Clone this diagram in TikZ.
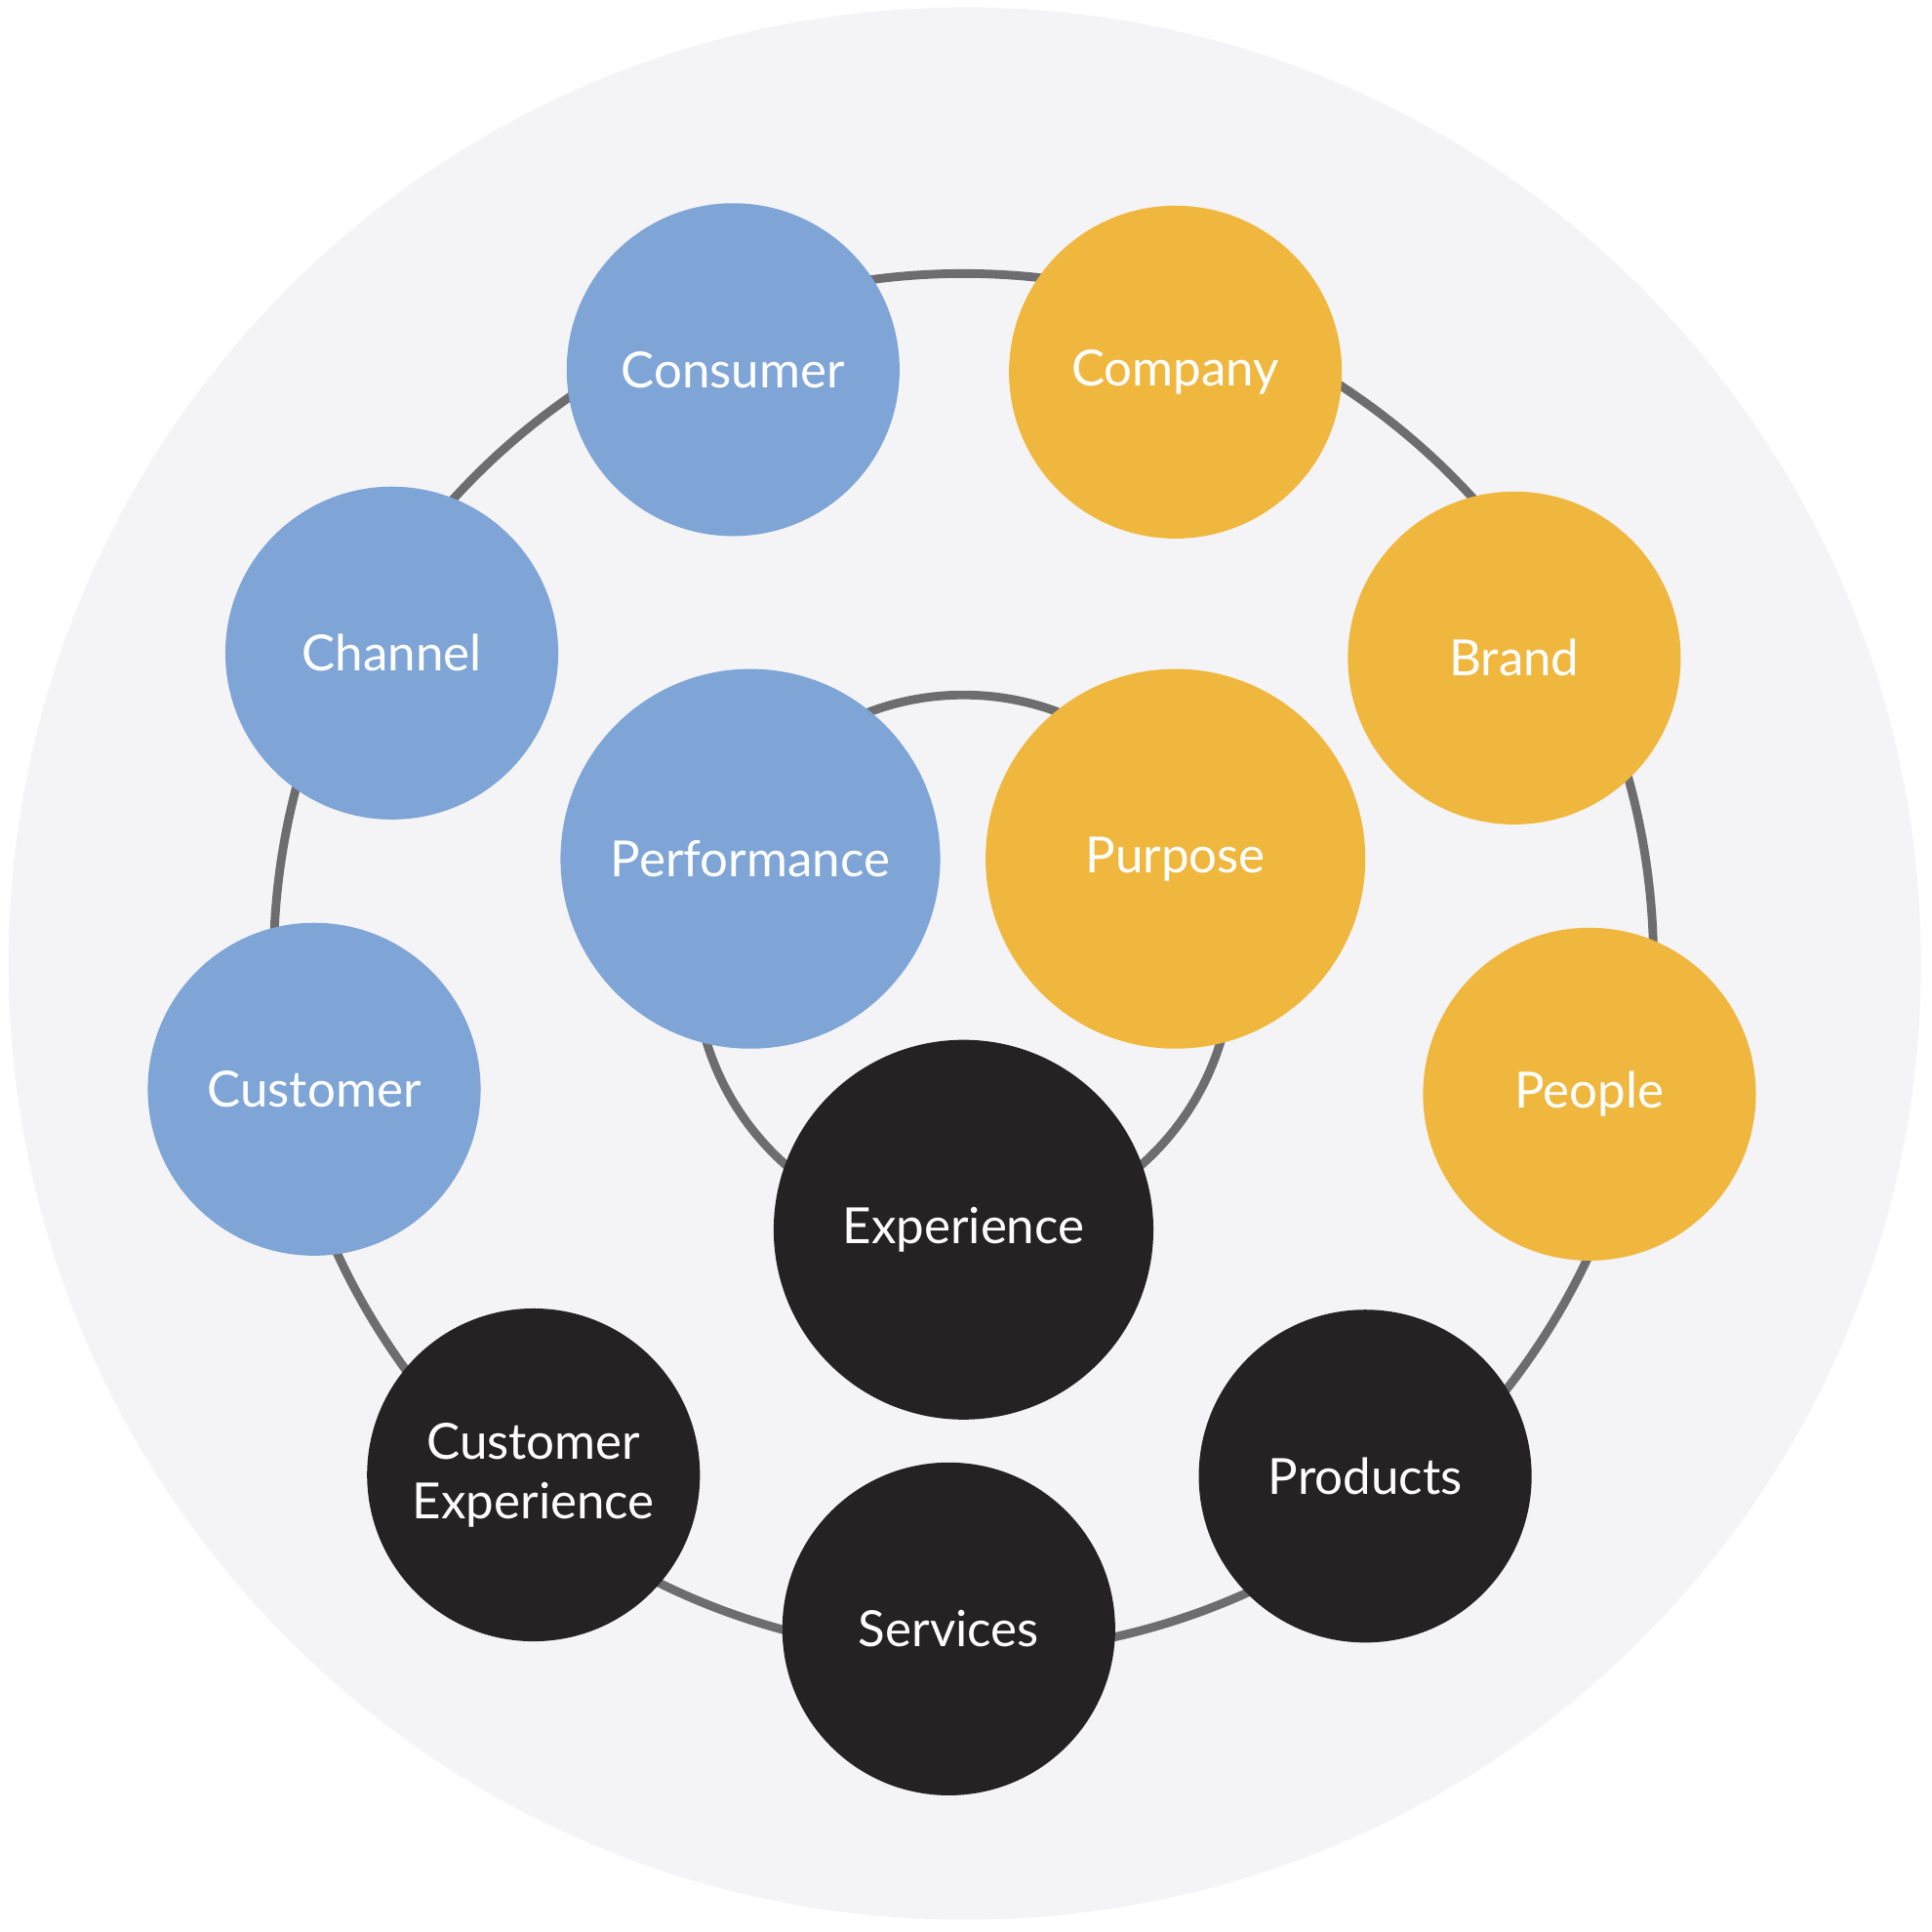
\documentclass[tikz,border=0pt]{standalone}
\usepackage{fontspec}
\setmainfont{Lato}
\definecolor{bgGray}{HTML}{F4F4F6}
\definecolor{ringGray}{HTML}{6D6D70}
\definecolor{perfBlue}{HTML}{7FA5D6}
\definecolor{purpOrange}{HTML}{F0B73F}
\definecolor{expBlack}{HTML}{252223}
\begin{document}
\begin{tikzpicture}[x=0.01cm, y=-0.01cm,
    bubble/.style={circle, inner sep=0pt, minimum size=2.7cm, align=center,
        text=white, font=\fontsize{11.5}{13.8}\selectfont},
    bigbubble/.style={bubble, minimum size=3.08cm},
    ring/.style={ringGray, line width=2pt}]
    % 1. Vùng hiển thị và nền
    \useasboundingbox (0, 0) rectangle (1568, 1568);
    \fill[white] (0, 0) rectangle (1568, 1568);
    \fill[bgGray] (783, 782) circle (776);

    % 2. Hai vòng tròn nối
    \coordinate (O) at (782, 782);
    \draw[ring] (O) circle (560);
    \draw[ring] (O) circle (218);

    % 3. Nhóm xanh
    \node[bubble, fill=perfBlue] (consumer) at (595, 300) {Consumer};
    \node[bubble, fill=perfBlue] (channel) at (318, 530) {Channel};
    \node[bubble, fill=perfBlue] (customer) at (255, 884) {Customer};
    \node[bigbubble, fill=perfBlue] (performance) at (609, 697) {Performance};

    % 4. Nhóm cam
    \node[bubble, fill=purpOrange] (company) at (954, 302) {Company};
    \node[bubble, fill=purpOrange] (brand) at (1229, 534) {Brand};
    \node[bubble, fill=purpOrange] (people) at (1290, 888) {People};
    \node[bigbubble, fill=purpOrange] (purpose) at (954, 697) {Purpose};

    % 5. Nhóm đen
    \node[bubble, fill=expBlack] (custexp) at (433, 1197) {Customer\\Experience};
    \node[bubble, fill=expBlack] (services) at (770, 1322) {Services};
    \node[bubble, fill=expBlack] (products) at (1108, 1198) {Products};
    \node[bigbubble, fill=expBlack] (experience) at (782, 998) {Experience};
\end{tikzpicture}
\end{document}
